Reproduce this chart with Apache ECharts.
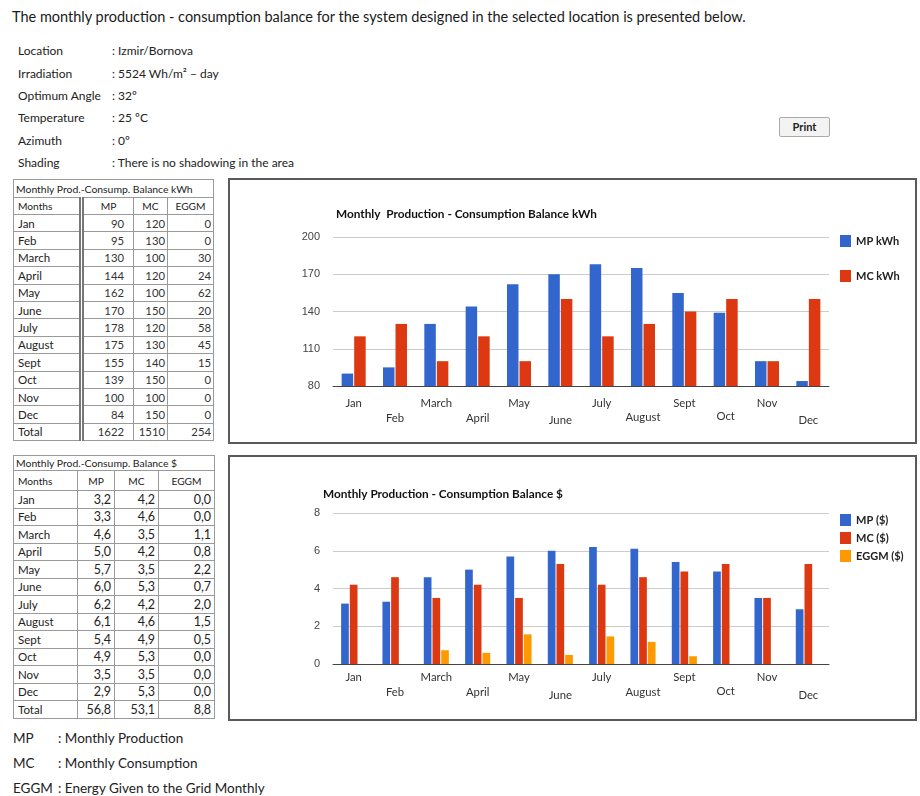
<!DOCTYPE html>
<html>
<head>
<meta charset="utf-8">
<title>Monthly Production - Consumption Balance</title>
<script src="https://cdn.jsdelivr.net/npm/echarts@6/dist/echarts.min.js"></script>
<style>
  html, body { margin: 0; padding: 0; background: #fff; }
  body { width: 920px; height: 796px; position: relative; overflow: hidden;
         font-family: Lato, "Open Sans", sans-serif; color: #222; }
  .abs { position: absolute; white-space: nowrap; }
  #heading { left: 12px; top: 8px; font-size: 14.5px; color: #1a1a1a; }
  .info { font-size: 12px; line-height: 14px; }
  #printBtn { left: 779px; top: 117px; width: 51px; height: 20px; box-sizing: border-box;
              border: 1px solid #aaa; border-radius: 2px; background: #f3f3f3;
              font-size: 11px; font-weight: bold; text-align: center; line-height: 18px; color: #222; }
  table.bal { position: absolute; border-collapse: collapse; table-layout: fixed;
              font-family: Lato, sans-serif; color: #222; }
  table.bal td { border: 1px solid #9a9a9a; padding: 0 2px; overflow: hidden; white-space: nowrap; }
  table.bal td.ttl { font-size: 10.4px; padding-left: 2px; }
  table.bal tr.hdr td { font-size: 10.2px; text-align: center; }
  table.bal tr.hdr td.m { text-align: left; padding-left: 4px; }
  table.bal td.m { font-size: 11.5px; padding-left: 4px; }
  table.bal td.n { text-align: right; }
  #tKwh td.n { font-size: 11.3px; color: #333; }
  #tKwh td.c1 { padding-right: 9px; }
  #tUsd td.n { font-size: 12.5px; color: #222; padding-right: 3px; }
  #tKwh td.dbl { border-right: 5px double #777; }
  .box { position: absolute; border: 2px solid #5a5a5a; box-sizing: border-box; background: #fff; }
  .chart { position: absolute; left: 0; top: 0; width: 100%; height: 100%; }
  .foot { font-size: 13.5px; line-height: 16px; color: #222; }
</style>
</head>
<body>

<div id="heading" class="abs">The monthly production - consumption balance for the system designed in the selected location is presented below.</div>
<div id="info"></div>
<div id="printBtn" class="abs">Print</div>

<table id="tKwh" class="bal"></table>
<table id="tUsd" class="bal"></table>

<div id="boxKwh" class="box" style="left:228px; top:178px; width:689px; height:266px;"><div id="chartKwh" class="chart"></div></div>
<div id="boxUsd" class="box" style="left:228px; top:455px; width:689px; height:266px;"><div id="chartUsd" class="chart"></div></div>

<div id="footer"></div>

<script>
// ---- site parameters ----
const infoLabels = ['Location', 'Irradiation', 'Optimum Angle', 'Temperature', 'Azimuth', 'Shading'];
const infoValues = [': Izmir/Bornova', ': 5524 Wh/m\u00B2 \u2013 day', ': 32\u00BA', ': 25 \u00BAC', ': 0\u00BA', ': There is no shadowing in the area'];

// ---- monthly balance ----
const months = ['Jan', 'Feb', 'March', 'April', 'May', 'June', 'July', 'August', 'Sept', 'Oct', 'Nov', 'Dec'];
const mpKwh = [90, 95, 130, 144, 162, 170, 178, 175, 155, 139, 100, 84];
const mcKwh = [120, 130, 100, 120, 100, 150, 120, 130, 140, 150, 100, 150];
const eggmKwh = [0, 0, 30, 24, 62, 20, 58, 45, 15, 0, 0, 0];
const totalsKwh = [1622, 1510, 254];

const mpUsd = [3.2, 3.3, 4.6, 5.0, 5.7, 6.0, 6.2, 6.1, 5.4, 4.9, 3.5, 2.9];
const mcUsd = [4.2, 4.6, 3.5, 4.2, 3.5, 5.3, 4.2, 4.6, 4.9, 5.3, 3.5, 5.3];
const eggmUsd = [0.0, 0.0, 1.1, 0.8, 2.2, 0.7, 2.0, 1.5, 0.5, 0.0, 0.0, 0.0];
const totalsUsd = [56.8, 53.1, 8.8];
// grid payment as plotted in the $ chart
const eggmUsdPlotted = [0, 0, 0.73, 0.59, 1.57, 0.48, 1.46, 1.17, 0.41, 0, 0, 0];

// ---- axis ticks ----
const ticksKwh = [80, 110, 140, 170, 200];
const ticksUsd = [0, 2, 4, 6, 8];

// ---- legend / headers ----
const tableHeaders = ['Months', 'MP', 'MC', 'EGGM'];
const footLabels = ['MP', 'MC', 'EGGM'];
const footTexts = [': Monthly Production', ': Monthly Consumption', ': Energy Given to the Grid Monthly'];

// ---------- text blocks ----------
const infoTop = [44, 67, 89, 111, 134, 156];
const infoEl = document.getElementById('info');
infoLabels.forEach((lab, i) => {
  const a = document.createElement('div');
  a.className = 'abs info'; a.style.left = '18px'; a.style.top = infoTop[i] + 'px'; a.textContent = lab;
  const b = document.createElement('div');
  b.className = 'abs info'; b.style.left = '112px'; b.style.top = infoTop[i] + 'px'; b.textContent = infoValues[i];
  infoEl.appendChild(a); infoEl.appendChild(b);
});

const footTop = [730, 755, 780];
const footEl = document.getElementById('footer');
footLabels.forEach((lab, i) => {
  const a = document.createElement('div');
  a.className = 'abs foot'; a.style.left = '13px'; a.style.top = footTop[i] + 'px'; a.textContent = lab;
  const b = document.createElement('div');
  b.className = 'abs foot'; b.style.left = '58px'; b.style.top = footTop[i] + 'px'; b.textContent = footTexts[i];
  footEl.appendChild(a); footEl.appendChild(b);
});

// ---------- tables ----------
function buildTable(id, title, cols, geom, fmt, cols3, totals, dblSep) {
  const t = document.getElementById(id);
  t.style.left = geom.left + 'px'; t.style.top = geom.top + 'px';
  const mCls = 'm' + (dblSep ? ' dbl' : '');
  const numCell = (v, j) => '<td class="n c' + (j + 1) + '">' + fmt(v) + '</td>';
  let html = '<colgroup>' + geom.widths.map(w => '<col style="width:' + w + 'px">').join('') + '</colgroup>';
  html += '<tr style="height:' + geom.titleH + 'px"><td class="ttl" colspan="4">' + title + '</td></tr>';
  html += '<tr class="hdr" style="height:' + geom.hdrH + 'px">' +
    cols.map((c, j) => '<td class="' + (j === 0 ? mCls : '') + '">' + c + '</td>').join('') + '</tr>';
  months.forEach((m, i) => {
    html += '<tr style="height:' + geom.rowH + 'px"><td class="' + mCls + '">' + m + '</td>' +
      cols3.map((arr, j) => numCell(arr[i], j)).join('') + '</tr>';
  });
  html += '<tr style="height:' + geom.rowH + 'px"><td class="' + mCls + '">Total</td>' +
    totals.map((v, j) => numCell(v, j)).join('') + '</tr>';
  t.innerHTML = html;
}
buildTable('tKwh', 'Monthly Prod.-Consump. Balance kWh', tableHeaders,
  { left: 13, top: 179, widths: [68, 52, 34, 46], titleH: 18, hdrH: 17, rowH: 17.4 },
  v => String(v), [mpKwh, mcKwh, eggmKwh], totalsKwh, true);
buildTable('tUsd', 'Monthly Prod.-Consump. Balance $', tableHeaders,
  { left: 13, top: 455, widths: [64, 37, 44, 56], titleH: 15, hdrH: 20, rowH: 17.5 },
  v => v.toFixed(1).replace('.', ','), [mpUsd, mcUsd, eggmUsd], totalsUsd, false);

// ---------- charts ----------
const BLUE = '#3366cc', RED = '#dc3912', ORANGE = '#ff9900';

function staggered(offsets) {
  const rich = {};
  offsets.forEach((o, i) => { rich['r' + i] = { padding: [o, 0, 0, 0] }; });
  return {
    formatter: (v, i) => '{r' + i + '|' + v + '}',
    rich: rich
  };
}

function makeOption(cfg) {
  const st = staggered(cfg.labelOffsets);
  return {
    animation: false,
    title: {
      text: cfg.title, left: cfg.titleLeft, top: cfg.titleTop, padding: 0,
      textStyle: { fontFamily: 'Lato', fontSize: 11.8, fontWeight: 'bold', color: '#111' }
    },
    legend: {
      orient: 'vertical', left: 610, top: cfg.legendTop, icon: 'rect', padding: 0,
      itemWidth: 11, itemHeight: 12, itemGap: cfg.legendGap, itemTextGap: 7,
      textStyle: { fontFamily: 'Lato', fontSize: 11, fontWeight: 'bold', color: '#222' },
      data: cfg.series.map(s => s.name)
    },
    grid: { left: 103, top: cfg.gridTop, width: 496, height: cfg.gridH },
    xAxis: {
      type: 'category', data: months,
      axisTick: { show: false },
      axisLine: { lineStyle: { color: '#444', width: 1 } },
      axisLabel: {
        interval: 0, margin: cfg.labelMargin, fontFamily: 'Lato', fontSize: 11.3, color: '#333',
        formatter: st.formatter, rich: st.rich
      }
    },
    yAxis: {
      type: 'value', min: cfg.ticks[0], max: cfg.ticks[cfg.ticks.length - 1],
      interval: cfg.ticks[1] - cfg.ticks[0],
      axisLine: { show: false }, axisTick: { show: false },
      axisLabel: { fontFamily: 'Liberation Sans', fontSize: 11, color: '#444', margin: 13 },
      splitLine: { lineStyle: { color: '#cccccc', width: 1 } }
    },
    series: cfg.series.map(s => ({
      name: s.name, type: 'bar', data: s.data,
      barWidth: cfg.barWidth, barGap: cfg.barGap,
      itemStyle: { color: s.color },
      emphasis: { disabled: true }
    }))
  };
}

const chartKwh = echarts.init(document.getElementById('chartKwh'), null, { renderer: 'canvas' });
chartKwh.setOption(makeOption({
  title: 'Monthly  Production - Consumption Balance kWh', titleLeft: 106, titleTop: 28,
  legendTop: 55, legendGap: 23,
  gridTop: 57, gridH: 149,
  ticks: ticksKwh,
  labelMargin: 12, labelOffsets: [0, 15, 0, 15, 0, 17, 0, 14, 0, 13, 0, 17],
  barWidth: 11.5, barGap: '9%',
  series: [
    { name: 'MP kWh', data: mpKwh, color: BLUE },
    { name: 'MC kWh', data: mcKwh, color: RED }
  ]
}));

const chartUsd = echarts.init(document.getElementById('chartUsd'), null, { renderer: 'canvas' });
chartUsd.setOption(makeOption({
  title: 'Monthly Production - Consumption Balance $', titleLeft: 93, titleTop: 31,
  legendTop: 57, legendGap: 6,
  gridTop: 56, gridH: 151,
  ticks: ticksUsd,
  labelMargin: 8, labelOffsets: [0, 15, 0, 15, 0, 18, 0, 15, 0, 14, 0, 18],
  barWidth: 7.7, barGap: '13%',
  series: [
    { name: 'MP ($)', data: mpUsd, color: BLUE },
    { name: 'MC ($)', data: mcUsd, color: RED },
    { name: 'EGGM ($)', data: eggmUsdPlotted, color: ORANGE }
  ]
}));
</script>
</body>
</html>
